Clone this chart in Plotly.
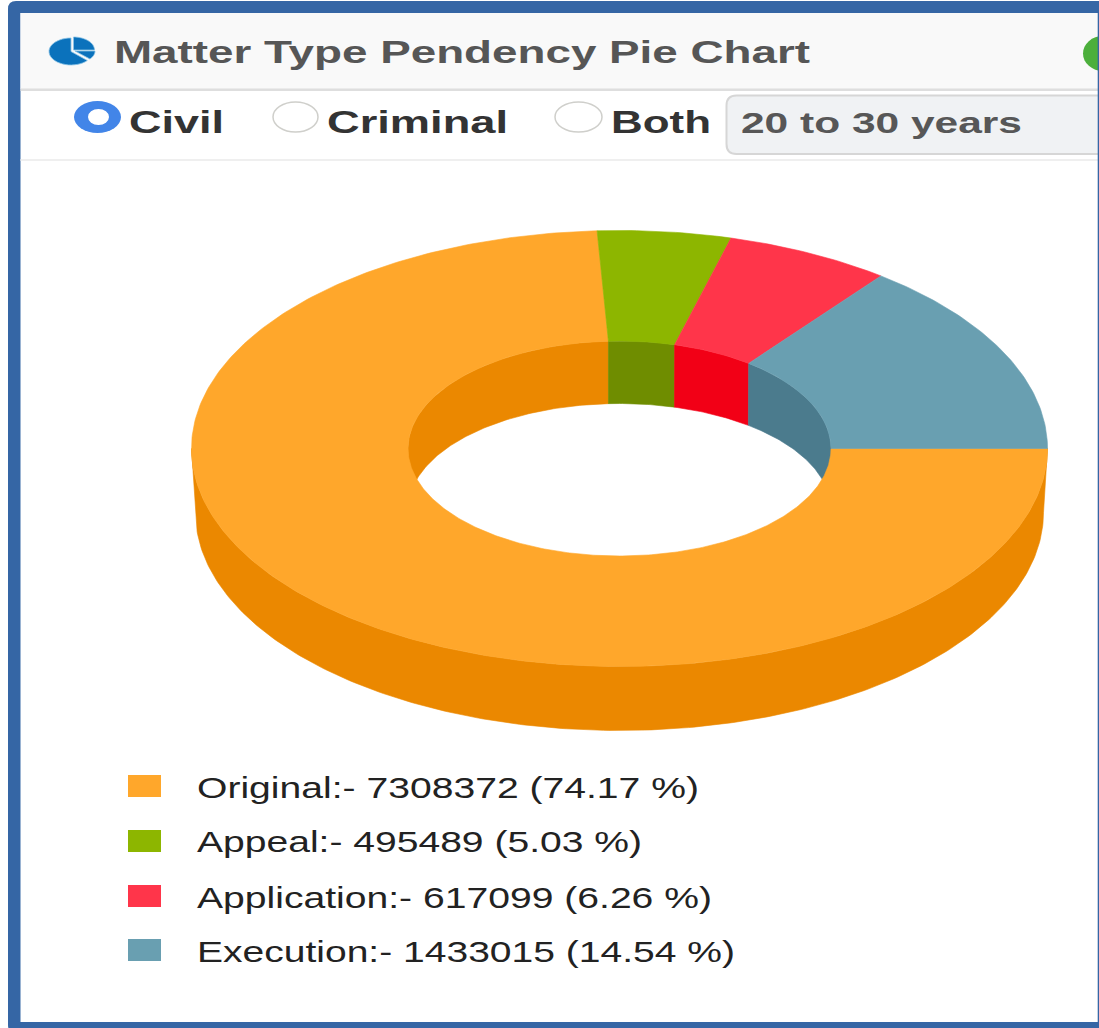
import numpy as np
import plotly.graph_objects as go

# ---- data ----
categories = ["Original", "Appeal", "Application", "Execution"]
values = [7308372, 495489, 617099, 1433015]
percents = ["74.17", "5.03", "6.26", "14.54"]
top_colors = ["#FFA72B", "#8DB600", "#FF354A", "#699FB1"]
side_colors = ["#EB8800", "#6F8D00", "#F20016", "#4B7B8D"]

W, H = 1099, 1028
CX, CY = 619.5, 448.5
RX, RY = 428, 218
IRX, IRY = 211.5, 107.5
LOW_RX = 424
LOW_IRX, LOW_IRY = 211, 105
DEPTH = 64
IN_DEPTH = 60
FRAME = "#3566A5"


def ex(t, rx):
    return CX + rx * np.cos(t)


def ey(t, ry, dy=0):
    return CY + ry * np.sin(t) + dy


def poly(xs, ys, color, name):
    return go.Scatter(x=list(xs) + [xs[0]], y=list(ys) + [ys[0]], mode="lines", fill="toself",
                      fillcolor=color, line=dict(color=color, width=0.6), hoverinfo="text",
                      text=name, showlegend=False)


def arc(a, b, n=None):
    n = n or max(2, int(abs(b - a) * 80))
    return np.linspace(a, b, n)


fig = go.Figure()
shares = np.array(values, dtype=float) / sum(values)
edges = np.concatenate([[0], np.cumsum(shares)]) * 2 * np.pi

# outer wall (front half) and inner wall (back half)
for i, cat in enumerate(categories):
    a, b = edges[i], edges[i + 1]
    lo, hi = a, min(b, np.pi)
    if hi > lo:
        t = arc(lo, hi)
        xs = np.r_[ex(t, RX), ex(t[::-1], LOW_RX)]
        ys = np.r_[ey(t, RY), ey(t[::-1], RY, DEPTH)]
        fig.add_trace(poly(xs, ys, side_colors[i], cat))
for i, cat in enumerate(categories):
    a, b = edges[i], edges[i + 1]
    lo, hi = max(a, np.pi), b
    if hi > lo:
        t = arc(lo, hi)
        xs = np.r_[ex(t, IRX), ex(t[::-1], LOW_IRX)]
        ys = np.r_[ey(t, IRY), ey(t[::-1], LOW_IRY, IN_DEPTH)]
        fig.add_trace(poly(xs, ys, side_colors[i], cat))
# top surface
for i, cat in enumerate(categories):
    t = arc(edges[i], edges[i + 1])
    xs = np.r_[ex(t, RX), ex(t[::-1], IRX)]
    ys = np.r_[ey(t, RY), ey(t[::-1], IRY)]
    fig.add_trace(poly(xs, ys, top_colors[i], cat))


def rect(x0, y0, x1, y1, fill, line=None, lw=0, layer="below"):
    return dict(type="rect", xref="x", yref="y", x0=x0, y0=y0, x1=x1, y1=y1, fillcolor=fill,
                line=dict(color=line or fill, width=lw), layer=layer)


def rrect(x0, y0, x1, y1, r, fill, line=None, lw=0, layer="below"):
    p = (f"M{x0+r},{y0} L{x1},{y0} L{x1},{y1} L{x0+r},{y1} Q{x0},{y1} {x0},{y1-r} "
         f"L{x0},{y0+r} Q{x0},{y0} {x0+r},{y0} Z")
    return dict(type="path", xref="x", yref="y", path=p, fillcolor=fill,
                line=dict(color=line or fill, width=lw), layer=layer)


def oval(x0, y0, x1, y1, fill, line=None, lw=0, layer="above"):
    return dict(type="circle", xref="x", yref="y", x0=x0, y0=y0, x1=x1, y1=y1, fillcolor=fill,
                line=dict(color=line or fill, width=lw), layer=layer)


def icon_slice(cx, cy, rx, ry, deg0, deg1, color="#0B72BC"):
    t = np.radians(np.linspace(deg0, deg1, 30))
    pts = " L".join(f"{cx + rx * np.cos(a):.1f},{cy + ry * np.sin(a):.1f}" for a in t)
    return dict(type="path", xref="x", yref="y", path=f"M{cx},{cy} L{pts} Z", fillcolor=color,
                line=dict(color="#8CC4E6", width=0.8), layer="above")


shapes = [
    rrect(8, 1, W + 5, H + 5, 8, FRAME),
    rect(20.5, 13, W + 2, 1022, "#FFFFFF"),
    rect(20.5, 13, W + 2, 89, "#F9F9F9"),
    rect(20.5, 88.5, W + 2, 91, "#DEDEDE"),
    rect(20.5, 159, W + 2, 161, "#EFEFEF"),
    rrect(726.5, 95.5, W + 5, 154, 10, "#F0F2F4", "#D6D6D6", 2),
    # header icon
    icon_slice(71, 51.5, 22, 13.5, 42, 270),
    icon_slice(73.5, 50, 21, 13, 270, 360),
    icon_slice(75, 51, 20, 12, 0, 42),
    # right status dot
    oval(1083, 36, 1123, 71, "#4CAF3C"),
    # radios
    oval(74, 101, 121, 133, "#4285E8"),
    oval(88, 109, 109, 125, "#FFFFFF"),
    oval(273, 102, 318, 132, "#FFFFFF", "#CFCFCB", 1.5),
    oval(555, 102, 602, 132, "#FFFFFF", "#CFCFCB", 1.5),
    # thin frame line at the right edge
    rect(W - 1.3, 1, W + 2, H, FRAME, layer="above"),
]

# legend swatches
row_y = [786, 841, 896, 950]
for c, y in zip(top_colors, row_y):
    shapes.append(rect(128, y - 11, 161, y + 11, c, layer="above"))

annos = []
stretch = []


def label(x, y, text, size, color, bold, width):
    annos.append(dict(x=x, y=y, xref="x", yref="y", text=f"<b>{text}</b>" if bold else text,
                      showarrow=False, xanchor="left", yanchor="middle",
                      font=dict(family="Liberation Sans, Arial, sans-serif", size=size, color=color)))
    stretch.append(width)


label(115, 52, "Matter Type Pendency Pie Chart", 31, "#565656", True, 696)
label(130, 122, "Civil", 32, "#333333", True, 95)
label(328, 122, "Criminal", 32, "#333333", True, 181)
label(612, 122, "Both", 32, "#333333", True, 100)
label(742, 123, "20 to 30 years", 29, "#575757", True, 281)
legend_w = [502, 445, 515, 538]
legend_y = [787, 841, 897, 951]
for c, v, p, y, w in zip(categories, values, percents, legend_y, legend_w):
    label(198, y, f"{c}:- {v} ({p} %)", 30, "#222222", False, w)

fig.update_layout(
    width=W, height=H, margin=dict(l=0, r=0, t=0, b=0), paper_bgcolor="#FFFFFF", plot_bgcolor="rgba(0,0,0,0)",
    xaxis=dict(range=[0, W], visible=False, fixedrange=True),
    yaxis=dict(range=[H, 0], visible=False, fixedrange=True),
    shapes=shapes, annotations=annos, showlegend=False,
)

js = ("document.body.style.margin='0';"
      "var w=%s;"
      "document.querySelectorAll('.annotation-text').forEach(function(t,i){"
      "var b=t.getBBox();t.style.textAnchor='start';t.setAttribute('text-anchor','start');"
      "t.setAttribute('x',b.x-3);"
      "t.setAttribute('textLength',w[i]);t.setAttribute('lengthAdjust','spacingAndGlyphs');});" % stretch)
fig.write_html("out.html", config=dict(displayModeBar=False), post_script=js)
